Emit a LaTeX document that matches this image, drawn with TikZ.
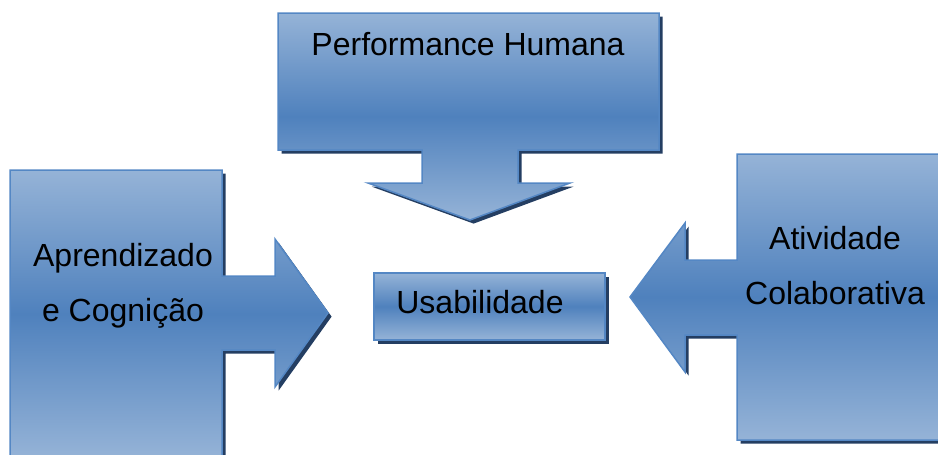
\documentclass[tikz,border=0pt]{standalone}
\usepackage{fontspec}
\setmainfont{Liberation Sans}
\usetikzlibrary{shadows}
\definecolor{boxlight}{RGB}{149,179,215}
\definecolor{boxdark}{RGB}{79,129,189}
\definecolor{boxline}{RGB}{84,135,196}
\definecolor{boxshadow}{RGB}{36,62,98}
\tikzstyle{callout}=[draw=boxline, line width=0.75pt,
                     top color=boxlight, bottom color=boxlight, middle color=boxdark,
                     % Hard shadow to the lower right.
                     drop shadow={shadow xshift=1.8pt, shadow yshift=-1.8pt, fill=boxshadow, opacity=1}]
\tikzstyle{callouttext}=[font=\fontsize{16}{27.5}\selectfont, align=center, inner sep=0, text=black]

\begin{document}
\begin{tikzpicture}[x=0.5pt, y=-0.5pt]
        \useasboundingbox (0,0) rectangle (938,455);
        \clip (0,0) rectangle (938,455);
        % Down arrow callout (top).
        \path[callout] (278,13) -- (659,13) -- (659,150) -- (518,150) -- (518,183) -- (570,183)
              -- (470,220) -- (368,183) -- (422,183) -- (422,150) -- (278,150) -- cycle;
        % Right arrow callout (left).
        \path[callout] (10,170) -- (222,170) -- (222,276) -- (275,276) -- (275,239) -- (328,313)
              -- (275,387) -- (275,350) -- (222,350) -- (222,458) -- (10,458) -- cycle;
        % Left arrow callout (right).
        \path[callout] (945,154) -- (737,154) -- (737,260) -- (685,260) -- (685,223) -- (630,297)
              -- (685,372) -- (685,335) -- (737,335) -- (737,440) -- (945,440) -- cycle;
        % Centre box.
        \path[callout] (374,273) rectangle (605,340);
        \node[callouttext, anchor=base] (perf) at (468,55) {Performance Humana};
        \node[callouttext] (aprend) at (123,286) {Aprendizado\\e Cognição};
        \node[callouttext] (ativ) at (835,266) {Atividade\\Colaborativa};
        \node[callouttext, anchor=base] (usab) at (480,313) {Usabilidade};
\end{tikzpicture}
\end{document}
